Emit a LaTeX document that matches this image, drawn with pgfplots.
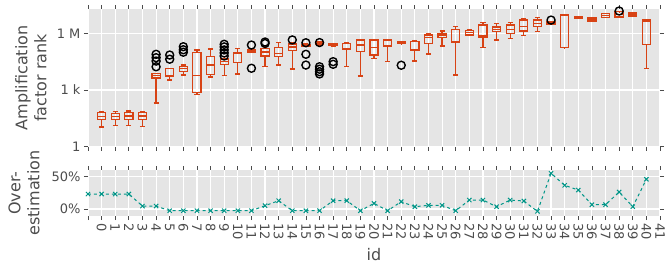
\documentclass[border=0pt]{standalone}
\usepackage{pgfplots}
\pgfplotsset{compat=1.18}
\usepgfplotslibrary{statistics}
\usepackage{fontspec}
\setmainfont{DejaVu Sans}
\definecolor{boxred}{RGB}{216,67,21}
\definecolor{teal2}{RGB}{0,150,136}
\definecolor{panelbg}{RGB}{229,229,229}
\definecolor{txtgray}{RGB}{77,77,77}
% box statistics given as log10 of the rank (axis ticks 0,3,6 = 1, 1 k, 1 M)
\newcommand{\bx}[6]{\addplot[boxred, line width=1.2pt, boxplot prepared={draw direction=y, draw position=#1, lower whisker=#2, lower quartile=#3, median=#4, upper quartile=#5, upper whisker=#6}] coordinates {};}
\pgfplotsset{
  common/.style={
    scale only axis, width=572pt,
    xmin=-1, xmax=41,
    axis background/.style={fill=panelbg},
    axis line style={draw=none},
    grid=major, major grid style={white, line width=1.1pt},
    tick align=outside, major tick length=4pt,
    tick style={line width=0.8pt, color=black!70},
    xtick={-1,0,...,41},
    ticklabel style={font=\fontsize{13}{15}\selectfont, text=txtgray},
    label style={font=\fontsize{16}{19}\selectfont, text=txtgray},
    clip=true,
  },
  boxplot/box extend=0.6,
  boxplot/whisker extend=0.38,
}
\begin{document}
\begin{tikzpicture}
\useasboundingbox (-88pt,-119.3pt) rectangle (578pt,146.7pt);
\begin{axis}[common, name=top, at={(0pt,0pt)}, anchor=south west,
  height=137.7pt,
  ymin=0, ymax=7.286,
  ytick={0,3,6}, yticklabels={1,1 k,1 M},
  xticklabels={},
  ylabel={Amplification\\factor rank},
  ylabel style={align=center, at={(axis description cs:-0.0997,0.5)}, anchor=center},
]
\addplot[only marks, mark=o, mark size=4pt, black, line width=1.4pt] coordinates {
(4,4.89) (4,4.71) (4,4.53) (4,4.23)
(5,4.85) (5,4.63)
(6,5.29) (6,5.13) (6,5.00)
(9,5.42) (9,5.28) (9,5.12) (9,4.96) (9,4.80)
(11,5.38) (11,4.15)
(12,5.54) (12,5.46)
(14,5.65)
(15,5.50) (15,4.89) (15,4.32)
(16,5.51) (16,4.23) (16,4.10) (16,3.97) (16,3.85)
(17,4.50) (17,4.36)
(22,4.31)
(33,6.70)
(38,7.18)
};
\bx{0}{1.04}{1.45}{1.59}{1.82}{1.85}
\bx{1}{1.11}{1.43}{1.59}{1.75}{1.85}
\bx{2}{1.11}{1.43}{1.62}{1.82}{1.89}
\bx{3}{1.08}{1.43}{1.62}{1.82}{1.85}
\bx{4}{2.31}{3.63}{3.76}{3.88}{3.88}
\bx{5}{3.53}{3.70}{3.74}{4.15}{4.15}
\bx{6}{3.79}{4.00}{4.15}{4.25}{4.32}
\bx{7}{2.77}{2.88}{3.76}{4.97}{5.12}
\bx{8}{3.69}{3.83}{4.32}{4.76}{5.17}
\bx{9}{3.76}{4.36}{4.50}{4.64}{4.76}
\bx{10}{3.85}{4.44}{4.95}{4.97}{5.21}
\bx{11}{4.98}{4.99}{5.05}{5.12}{5.15}
\bx{12}{4.23}{4.80}{5.01}{5.20}{5.33}
\bx{13}{4.32}{4.76}{4.94}{5.24}{5.52}
\bx{14}{4.11}{5.08}{5.28}{5.43}{5.50}
\bx{15}{5.30}{5.33}{5.37}{5.42}{5.43}
\bx{16}{5.38}{5.40}{5.47}{5.54}{5.56}
\bx{17}{5.32}{5.34}{5.38}{5.43}{5.44}
\bx{18}{4.23}{5.17}{5.45}{5.47}{5.50}
\bx{19}{3.74}{5.03}{5.38}{5.65}{5.68}
\bx{20}{4.68}{4.85}{5.26}{5.65}{5.68}
\bx{21}{4.50}{5.33}{5.60}{5.65}{5.68}
\bx{22}{5.44}{5.45}{5.50}{5.56}{5.57}
\bx{23}{4.53}{5.12}{5.55}{5.56}{5.60}
\bx{24}{4.90}{5.47}{5.77}{5.91}{6.00}
\bx{25}{5.33}{5.79}{5.90}{5.96}{6.12}
\bx{26}{3.79}{5.50}{5.55}{6.21}{6.35}
\bx{27}{5.88}{5.91}{6.03}{6.16}{6.20}
\bx{28}{5.26}{5.77}{5.86}{6.44}{6.58}
\bx{29}{5.65}{6.08}{6.20}{6.33}{6.53}
\bx{30}{5.74}{6.00}{6.20}{6.44}{6.58}
\bx{31}{5.87}{6.12}{6.35}{6.70}{6.76}
\bx{32}{6.08}{6.35}{6.53}{6.70}{6.83}
\bx{33}{6.46}{6.48}{6.55}{6.61}{6.62}
\bx{34}{5.23}{5.24}{5.26}{6.97}{7.00}
\bx{35}{6.78}{6.79}{6.83}{6.86}{6.87}
\bx{36}{6.63}{6.65}{6.76}{6.83}{6.85}
\bx{37}{6.84}{6.85}{6.95}{7.04}{7.06}
\bx{38}{6.85}{6.86}{7.00}{7.14}{7.15}
\bx{39}{6.91}{6.92}{7.00}{7.07}{7.08}
\bx{40}{4.15}{5.42}{6.65}{6.70}{6.70}
\end{axis}
\begin{axis}[common, name=bot, at={(0pt,-23.3pt)}, anchor=north west,
  height=46pt,
  ymin=-10.8, ymax=60.4,
  ytick={0,50}, yticklabels={0\%,50\%},
  xticklabels={,0,1,2,3,4,5,6,7,8,9,10,11,12,13,14,15,16,17,18,19,20,21,22,23,24,25,26,27,28,29,30,31,32,33,34,35,36,37,38,39,40,41},
  xticklabel style={rotate=-90, anchor=west},
  ylabel={Over-\\estimation},
  ylabel style={align=center, at={(axis description cs:-0.112,0.5)}, anchor=center},
  xlabel={id},
  xlabel style={at={(axis description cs:0.5,0)}, yshift=-39pt, anchor=center},
]
\addplot[teal2, dashed, line width=1pt, mark=x, mark size=3pt, mark options={solid}] coordinates {
(-1,23.2) (0,23.2) (1,23.2) (2,23.2) (3,4.6) (4,4.6) (5,-2.6) (6,-2.6) (7,-2.6) (8,-2.6) (9,-2.6) (10,-2.6) (11,-2.6)
(12,5.2) (13,12.9) (14,-2.6) (15,-2.6) (16,-2.6) (17,12.9) (18,12.9) (19,-2.6) (20,8.8) (21,-2.6) (22,11.4)
(23,3.6) (24,5.7) (25,5.7) (26,-2.6) (27,13.9) (28,13.9) (29,3.6) (30,13.9) (31,12.4) (32,-3.6) (33,55.3)
(34,36.7) (35,29.4) (36,6.7) (37,6.7) (38,26.3) (39,3.6) (40,46)
};
\end{axis}
\end{tikzpicture}
\end{document}
